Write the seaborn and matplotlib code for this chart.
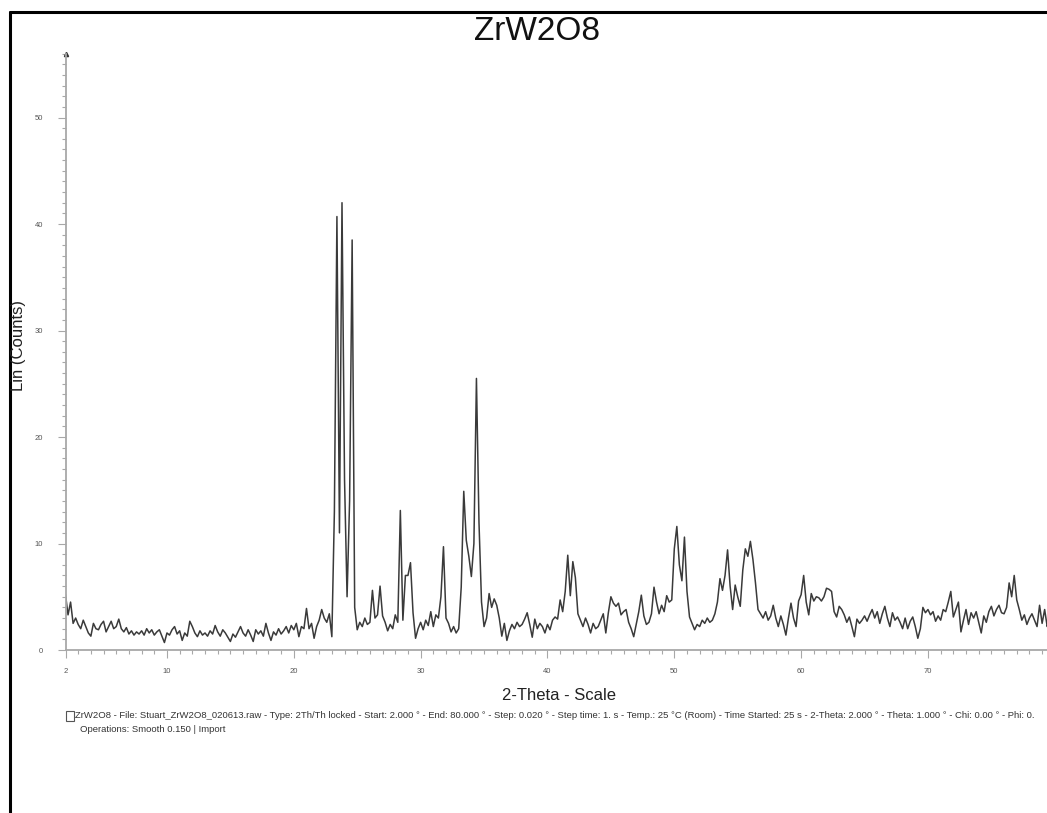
import numpy as np
import pandas as pd
import matplotlib
matplotlib.use("Agg")
import matplotlib.pyplot as plt
from matplotlib.ticker import MultipleLocator, FixedLocator
from matplotlib.lines import Line2D
from matplotlib.patches import Rectangle
import seaborn as sns

# ---------------- data (scan grid 2.0 .. 79.8 step 0.2) ----------------
scan_start = 2.0
scan_step = 0.2

counts_2_23 = [
    5.2, 3.3, 4.5, 2.5, 3.0,
    2.4, 2.0, 2.8, 2.2, 1.6,
    1.3, 2.5, 2.0, 1.9, 2.4,
    2.7, 1.7, 2.2, 2.7, 2.0,
    2.2, 2.9, 2.0, 1.7, 2.1,
    1.5, 1.8, 1.4, 1.7, 1.5,
    1.8, 1.4, 2.0, 1.6, 1.9,
    1.4, 1.7, 1.9, 1.3, 0.7,
    1.6, 1.4, 1.9, 2.2, 1.5,
    1.8, 0.9, 1.6, 1.3, 2.7,
    2.2, 1.6, 1.25, 1.8, 1.4,
    1.6, 1.3, 1.8, 1.5, 2.3,
    1.7, 1.3, 1.9, 1.6, 1.2,
    0.8, 1.5, 1.2, 1.7, 2.2,
    1.6, 1.3, 1.9, 1.4, 0.8,
    1.9, 1.5, 1.8, 1.3, 2.5,
    1.6, 0.9, 1.7, 1.4, 2.0,
    1.5, 1.8, 2.2, 1.6, 2.3,
    1.9, 2.5, 1.25, 2.2, 2.0,
    3.9, 2.0, 2.5, 1.1, 2.2,
    2.8, 3.8, 3.0, 2.6, 3.4,
]
counts_23_43 = [
    1.25, 13.0, 40.7, 11.0, 42.0,
    16.0, 5.0, 14.0, 38.5, 4.0,
    1.9, 2.6, 2.2, 3.0, 2.4,
    2.6, 5.6, 3.0, 3.3, 6.0,
    3.2, 2.6, 1.8, 2.4, 2.0,
    3.3, 2.6, 13.1, 2.8, 7.0,
    7.0, 8.2, 3.5, 1.1, 2.0,
    2.6, 1.9, 2.8, 2.3, 3.6,
    2.2, 3.3, 3.0, 5.0, 9.7,
    3.0, 2.5, 1.7, 2.2, 1.6,
    2.0, 5.9, 14.9, 10.3, 8.8,
    6.9, 10.0, 25.5, 12.0, 4.5,
    2.2, 3.0, 5.3, 4.0, 4.8,
    4.2, 3.0, 1.3, 2.5, 0.9,
    1.8, 2.4, 2.0, 2.6, 2.2,
    2.4, 2.9, 3.5, 2.4, 1.2,
    2.9, 2.0, 2.5, 2.2, 1.6,
    2.4, 1.9, 2.8, 3.1, 2.9,
    4.7, 3.6, 5.5, 8.9, 5.1,
    8.3, 6.8, 3.4, 2.8, 2.2,
]
counts_43_63 = [
    3.0, 2.4, 1.6, 2.5, 2.0,
    2.2, 2.8, 3.4, 1.6, 3.5,
    5.0, 4.4, 4.1, 4.4, 3.3,
    3.6, 3.8, 2.6, 2.0, 1.25,
    2.4, 3.6, 5.15, 3.2, 2.4,
    2.6, 3.4, 5.9, 4.5, 3.4,
    4.2, 3.6, 5.1, 4.5, 4.7,
    9.5, 11.6, 8.0, 6.5, 10.6,
    5.5, 3.1, 2.5, 1.9, 2.4,
    2.2, 2.8, 2.5, 3.0, 2.6,
    2.8, 3.4, 4.5, 6.7, 5.6,
    7.0, 9.4, 6.0, 3.8, 6.1,
    5.0, 4.1, 7.5, 9.5, 8.8,
    10.2, 8.5, 6.3, 3.8, 3.4,
    3.0, 3.6, 2.8, 3.2, 4.2,
    3.0, 2.2, 3.2, 2.4, 1.4,
    3.0, 4.4, 3.0, 2.2, 4.6,
    5.2, 7.0, 4.5, 3.3, 5.3,
    4.6, 5.0, 4.9, 4.6, 5.0,
    5.8, 5.7, 5.5, 3.6, 3.1,
]
counts_63_80 = [
    4.1, 3.8, 3.3, 2.6, 3.1,
    2.2, 1.25, 2.9, 2.5, 2.8,
    3.2, 2.7, 3.3, 3.8, 3.0,
    3.6, 2.5, 3.4, 4.1, 3.0,
    2.2, 3.5, 2.8, 3.1, 2.6,
    2.0, 3.0, 2.0, 2.7, 3.1,
    2.2, 1.1, 2.0, 4.0, 3.5,
    3.8, 3.3, 3.6, 2.7, 3.2,
    2.8, 3.8, 3.6, 4.5, 5.5,
    3.1, 3.8, 4.5, 1.7, 2.8,
    3.8, 2.4, 3.5, 3.0, 3.6,
    2.6, 1.6, 3.2, 2.6, 3.6,
    4.1, 3.2, 3.8, 4.2, 3.5,
    3.4, 4.0, 6.3, 5.0, 7.0,
    4.7, 3.8, 2.8, 3.3, 2.4,
    3.0, 3.4, 2.8, 2.2, 4.2,
    2.5, 3.8, 2.2, 3.0, 2.6,
]

x_major_ticks = [2, 10, 20, 30, 40, 50, 60, 70]
y_major_ticks = [0, 10, 20, 30, 40, 50]

title_text = "ZrW2O8"
xlabel_text = "2-Theta - Scale"
ylabel_text = "Lin (Counts)"
footer_line1 = ("ZrW2O8 - File: Stuart_ZrW2O8_020613.raw - Type: 2Th/Th locked - Start: 2.000 \u00b0 - "
                "End: 80.000 \u00b0 - Step: 0.020 \u00b0 - Step time: 1. s - Temp.: 25 \u00b0C (Room) - "
                "Time Started: 25 s - 2-Theta: 2.000 \u00b0 - Theta: 1.000 \u00b0 - Chi: 0.00 \u00b0 - Phi: 0.")
footer_line2 = "Operations: Smooth 0.150 | Import"

counts = np.array(counts_2_23 + counts_23_43 + counts_43_63 + counts_63_80)
two_theta = scan_start + scan_step * np.arange(len(counts))
df = pd.DataFrame({"two_theta": two_theta, "counts": counts})

# ---------------- figure ----------------
sns.set_theme(style="white")
plt.rcParams["font.family"] = ["Liberation Sans", "DejaVu Sans"]

W, H = 1047, 813
fig = plt.figure(figsize=(W / 100, H / 100), dpi=100)
fig.patch.set_facecolor("white")

ax_left, ax_right = 65.5, 1054.8
ax_bottom_px, ax_top_px = 650, 53.6
ax = fig.add_axes([ax_left / W, (H - ax_bottom_px) / H,
                   (ax_right - ax_left) / W, (ax_bottom_px - ax_top_px) / H])
ax.set_facecolor("white")

sns.lineplot(data=df, x="two_theta", y="counts", ax=ax, color="#3a3a3a",
             linewidth=1.1, estimator=None, sort=False)

ax.set_xlim(2, 80)
ax.set_ylim(0, 56)

axis_gray = "#a8a8a8"
for side in ["top", "right"]:
    ax.spines[side].set_visible(False)
for side in ["left", "bottom"]:
    ax.spines[side].set_color(axis_gray)
    ax.spines[side].set_linewidth(1.3)

ax.xaxis.set_major_locator(FixedLocator(x_major_ticks))
ax.xaxis.set_minor_locator(MultipleLocator(1))
ax.yaxis.set_major_locator(FixedLocator(y_major_ticks))
ax.yaxis.set_minor_locator(MultipleLocator(1))
ax.tick_params(axis="both", which="major", direction="out", length=6, width=0.8,
               color=axis_gray, labelsize=5.5, labelcolor="#555555", pad=8)
ax.tick_params(axis="x", which="major", pad=7)
ax.tick_params(axis="y", which="major", pad=10)
ax.tick_params(axis="both", which="minor", direction="out", length=3, width=0.8,
               color=axis_gray)
ax.tick_params(axis="x", bottom=True, which="both")
ax.tick_params(axis="y", left=True, which="both")

ax.set_xlabel("")
ax.set_ylabel("")

# arrow at top of y axis
ax.plot([0], [1], marker="^", markersize=3, color="#333333", transform=ax.transAxes,
        clip_on=False)

# texts
fig.text(537 / W, 1 - 32 / H, title_text, ha="center", va="center", fontsize=24, color="#111111")
fig.text(559 / W, 1 - 695 / H, xlabel_text, ha="center", va="center", fontsize=12, color="#222222")
fig.text(19 / W, 1 - 345 / H, ylabel_text, ha="center", va="center", rotation=90,
         fontsize=12, color="#222222")
fig.text(75 / W, 1 - 716 / H, footer_line1, ha="left", va="center", fontsize=6.8, color="#333333")
fig.text(80 / W, 1 - 729 / H, footer_line2, ha="left", va="center", fontsize=6.8, color="#333333")
fig.add_artist(Rectangle((66 / W, 1 - 721 / H), 8 / W, 10 / H, transform=fig.transFigure,
                         facecolor="none", edgecolor="#555555", linewidth=0.8))

# outer frame (left and top edges)
fig.add_artist(Line2D([10 / W, 10 / W], [0, 1 - 12 / H], color="black", linewidth=2.2,
                      transform=fig.transFigure))
fig.add_artist(Line2D([10 / W, 1], [1 - 12 / H, 1 - 12 / H], color="black", linewidth=2.2,
                      transform=fig.transFigure))

fig.savefig("out.png", dpi=100)
